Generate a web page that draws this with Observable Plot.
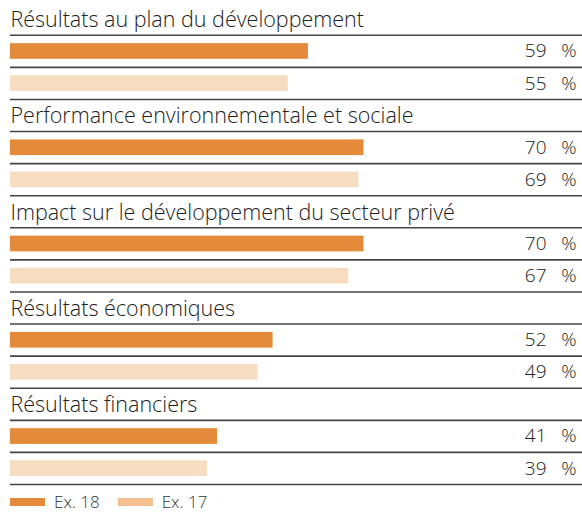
<!DOCTYPE html>
<html><head><meta charset="utf-8">
<script src="https://cdn.jsdelivr.net/npm/d3@7"></script>
<script src="https://cdn.jsdelivr.net/npm/@observablehq/plot@0.6"></script>
<style>
body{margin:0;background:#fff;font-family:"Open Sans",sans-serif;font-weight:300;}
#legend{display:flex;align-items:center;height:23px;padding-left:10px;font-size:17px;color:#333;}
.sw{display:inline-block;width:35px;height:8px;margin-right:9px;}
.it{display:flex;align-items:center;margin-right:18px;}
</style></head><body>
<div id="chart"></div>
<div id="legend"></div>
<script>
const categories = ["Résultats au plan du développement","Performance environnementale et sociale","Impact sur le développement du secteur privé","Résultats économiques","Résultats financiers"];
const ex18 = [59,70,70,52,41];
const ex17 = [55,69,67,49,39];
const seriesNames = ["Ex. 18","Ex. 17"];
const colors = ["#E38B3A","#F6DCC1"];
const legendColors = ["#E38B3A","#F3BF8F"];

const titles = categories.map((c,i)=>({label:c,row:i*3}));
const bars = [];
categories.forEach((c,i)=>{
  bars.push({cat:c,series:seriesNames[0],value:ex18[i],row:i*3+1});
  bars.push({cat:c,series:seriesNames[1],value:ex17[i],row:i*3+2});
});
const lines = d3.range(1, categories.length*3+1);

const chart = Plot.plot({
  width:582, height:490,
  marginLeft:0, marginRight:0, marginTop:0, marginBottom:0,
  x:{domain:[0,100], range:[10,515], axis:null},
  y:{domain:[0,15], range:[2.7,484], axis:null},
  color:{domain:seriesNames, range:colors},
  style:{fontFamily:"'Open Sans', sans-serif"},
  marks:[
    Plot.rect(bars,{x1:0,x2:"value",y1:d=>d.row+0.26,y2:d=>d.row+0.75,fill:"series"}),
    Plot.ruleY(lines,{stroke:"#444",strokeWidth:1.6,insetLeft:10}),
    Plot.text(titles,{x:0,y:d=>d.row+0.5,text:"label",textAnchor:"start",dy:1,fontSize:21.5,fontWeight:300,fill:"#222"}),
    Plot.text(bars,{frameAnchor:"right",y:d=>d.row+0.5,text:d=>String(d.value),textAnchor:"end",dx:-36,fontSize:19,fontWeight:300,fill:"#222"}),
    Plot.text(bars,{frameAnchor:"right",y:d=>d.row+0.5,text:()=>"%",textAnchor:"end",dx:-6,fontSize:19,fontWeight:300,fill:"#222"})
  ]
});
document.getElementById("chart").append(chart);
const lg = document.getElementById("legend");
seriesNames.forEach((s,i)=>{
  const it=document.createElement("span");it.className="it";
  const sw=document.createElement("span");sw.className="sw";sw.style.background=legendColors[i];
  it.append(sw, document.createTextNode(s));lg.append(it);
});
</script></body></html>
